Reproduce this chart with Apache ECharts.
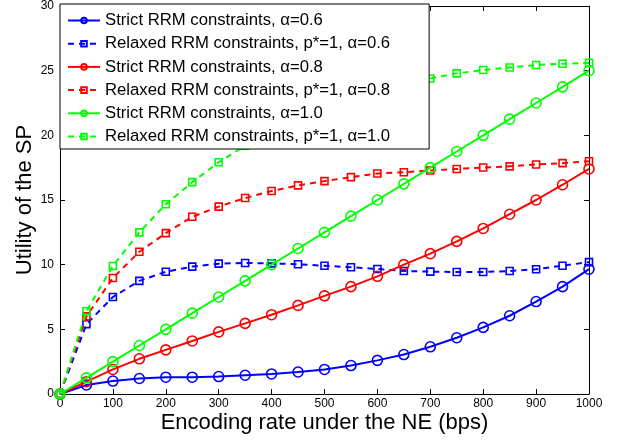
<!DOCTYPE html>
<html>
<head>
<meta charset="utf-8">
<script src="https://cdn.jsdelivr.net/npm/echarts@6/dist/echarts.min.js"></script>
<style>
html,body{margin:0;padding:0;background:#fff;}
#chart{width:623px;height:442px;}
</style>
</head>
<body>
<div id="chart"></div>
<script>
var xs = [0,50,100,150,200,250,300,350,400,450,500,550,600,650,700,750,800,850,900,950,1000];
var blueStrict   = [0,0.7,1.0,1.2,1.3,1.3,1.35,1.45,1.55,1.7,1.9,2.2,2.6,3.05,3.65,4.35,5.15,6.05,7.15,8.3,9.65];
var blueRelaxed  = [0,5.4,7.5,8.75,9.45,9.85,10.08,10.13,10.1,10.03,9.92,9.8,9.67,9.51,9.46,9.43,9.43,9.51,9.65,9.92,10.2];
var redStrict    = [0,0.95,1.9,2.72,3.41,4.1,4.8,5.46,6.13,6.85,7.59,8.3,9.1,10.0,10.85,11.8,12.8,13.9,15.0,16.18,17.4];
var redRelaxed   = [0,6.0,8.97,11.0,12.44,13.7,14.49,15.15,15.7,16.13,16.46,16.77,17.05,17.15,17.28,17.4,17.51,17.6,17.75,17.85,18.0];
var greenStrict  = [0,1.25,2.5,3.75,5.0,6.25,7.5,8.75,10.0,11.25,12.5,13.75,15.0,16.25,17.5,18.75,20.0,21.25,22.5,23.75,25.0];
var greenRelaxed = [0,6.4,9.9,12.5,14.67,16.38,17.92,19.2,20.3,21.2,22.0,22.7,23.3,23.9,24.4,24.79,25.05,25.25,25.44,25.54,25.6];
var names = [
  'Strict RRM constraints, \u03b1=0.6',
  'Relaxed RRM constraints, p*=1, \u03b1=0.6',
  'Strict RRM constraints, \u03b1=0.8',
  'Relaxed RRM constraints, p*=1, \u03b1=0.8',
  'Strict RRM constraints, \u03b1=1.0',
  'Relaxed RRM constraints, p*=1, \u03b1=1.0'
];
var seriesData = [blueStrict, blueRelaxed, redStrict, redRelaxed, greenStrict, greenRelaxed];
var colors = ['#0000ff','#0000ff','#ff0000','#ff0000','#00ff00','#00ff00'];
var font = 'Liberation Sans';

function pairs(ys){ return xs.map(function(x,i){ return [x, ys[i]]; }); }

var series = seriesData.map(function(ys, i){
  var relaxed = (i % 2 === 1);
  return {
    name: names[i],
    type: 'line',
    xAxisIndex: 0, yAxisIndex: 0,
    data: pairs(ys),
    symbol: relaxed ? 'rect' : 'circle',
    symbolSize: relaxed ? 7 : 10,
    showAllSymbol: true,
    lineStyle: { color: colors[i], width: 2, type: relaxed ? [6,5] : 'solid' },
    itemStyle: { color: 'rgba(255,255,255,0)', borderColor: colors[i], borderWidth: 1.6 },
    emphasis: { disabled: true },
    animation: false,
    z: 2 + i
  };
});

var chart = echarts.init(document.getElementById('chart'), null, {renderer: 'canvas'});
chart.setOption({
  backgroundColor: '#fff',
  animation: false,
  textStyle: { fontFamily: font },
  grid: { left: 60, right: 34, top: 4, bottom: 48, containLabel: false },
  legend: {
    orient: 'vertical',
    left: 60, top: 4,
    padding: [8, 39, 4, 7],
    backgroundColor: '#fff',
    borderColor: '#000',
    borderWidth: 1,
    itemWidth: 32, itemHeight: 7,
    itemGap: 6.2,
    z: 20,
    textStyle: { fontFamily: font, fontSize: 16.7, color: '#000', lineHeight: 16 },
    data: names
  },
  xAxis: [{
    type: 'value', min: 0, max: 1000, interval: 100,
    position: 'bottom',
    name: 'Encoding rate under the NE (bps)',
    nameLocation: 'middle', nameGap: 18, nameMoveOverlap: false,
    nameTextStyle: { fontFamily: font, fontSize: 22, color: '#000' },
    axisLine: { onZero: false, lineStyle: { color: '#000', width: 1 } },
    axisTick: { inside: true, length: 5, lineStyle: { color: '#000' } },
    axisLabel: { fontFamily: font, fontSize: 12, color: '#000', margin: 4,
                 formatter: function(v){ return String(v); } },
    splitLine: { show: false }
  }, {
    type: 'value', min: 0, max: 1000, interval: 100,
    position: 'top',
    axisLine: { onZero: false, lineStyle: { color: '#000', width: 1 } },
    axisTick: { inside: true, length: 5, lineStyle: { color: '#000' } },
    axisLabel: { show: false },
    splitLine: { show: false }
  }],
  yAxis: [{
    type: 'value', min: 0, max: 30, interval: 5,
    position: 'left',
    name: 'Utility of the SP',
    nameLocation: 'middle', nameGap: 24, nameMoveOverlap: false,
    nameTextStyle: { fontFamily: font, fontSize: 22, color: '#000' },
    axisLine: { show: true, onZero: false, lineStyle: { color: '#000', width: 1 } },
    axisTick: { show: true, inside: true, length: 5, lineStyle: { color: '#000' } },
    axisLabel: { fontFamily: font, fontSize: 12, color: '#000', margin: 6,
                 formatter: function(v){ return String(v); } },
    splitLine: { show: false }
  }, {
    type: 'value', min: 0, max: 30, interval: 5,
    position: 'right',
    axisLine: { show: true, onZero: false, lineStyle: { color: '#000', width: 1 } },
    axisTick: { show: true, inside: true, length: 5, lineStyle: { color: '#000' } },
    axisLabel: { show: false },
    splitLine: { show: false }
  }],
  series: series
});
</script>
</body>
</html>
